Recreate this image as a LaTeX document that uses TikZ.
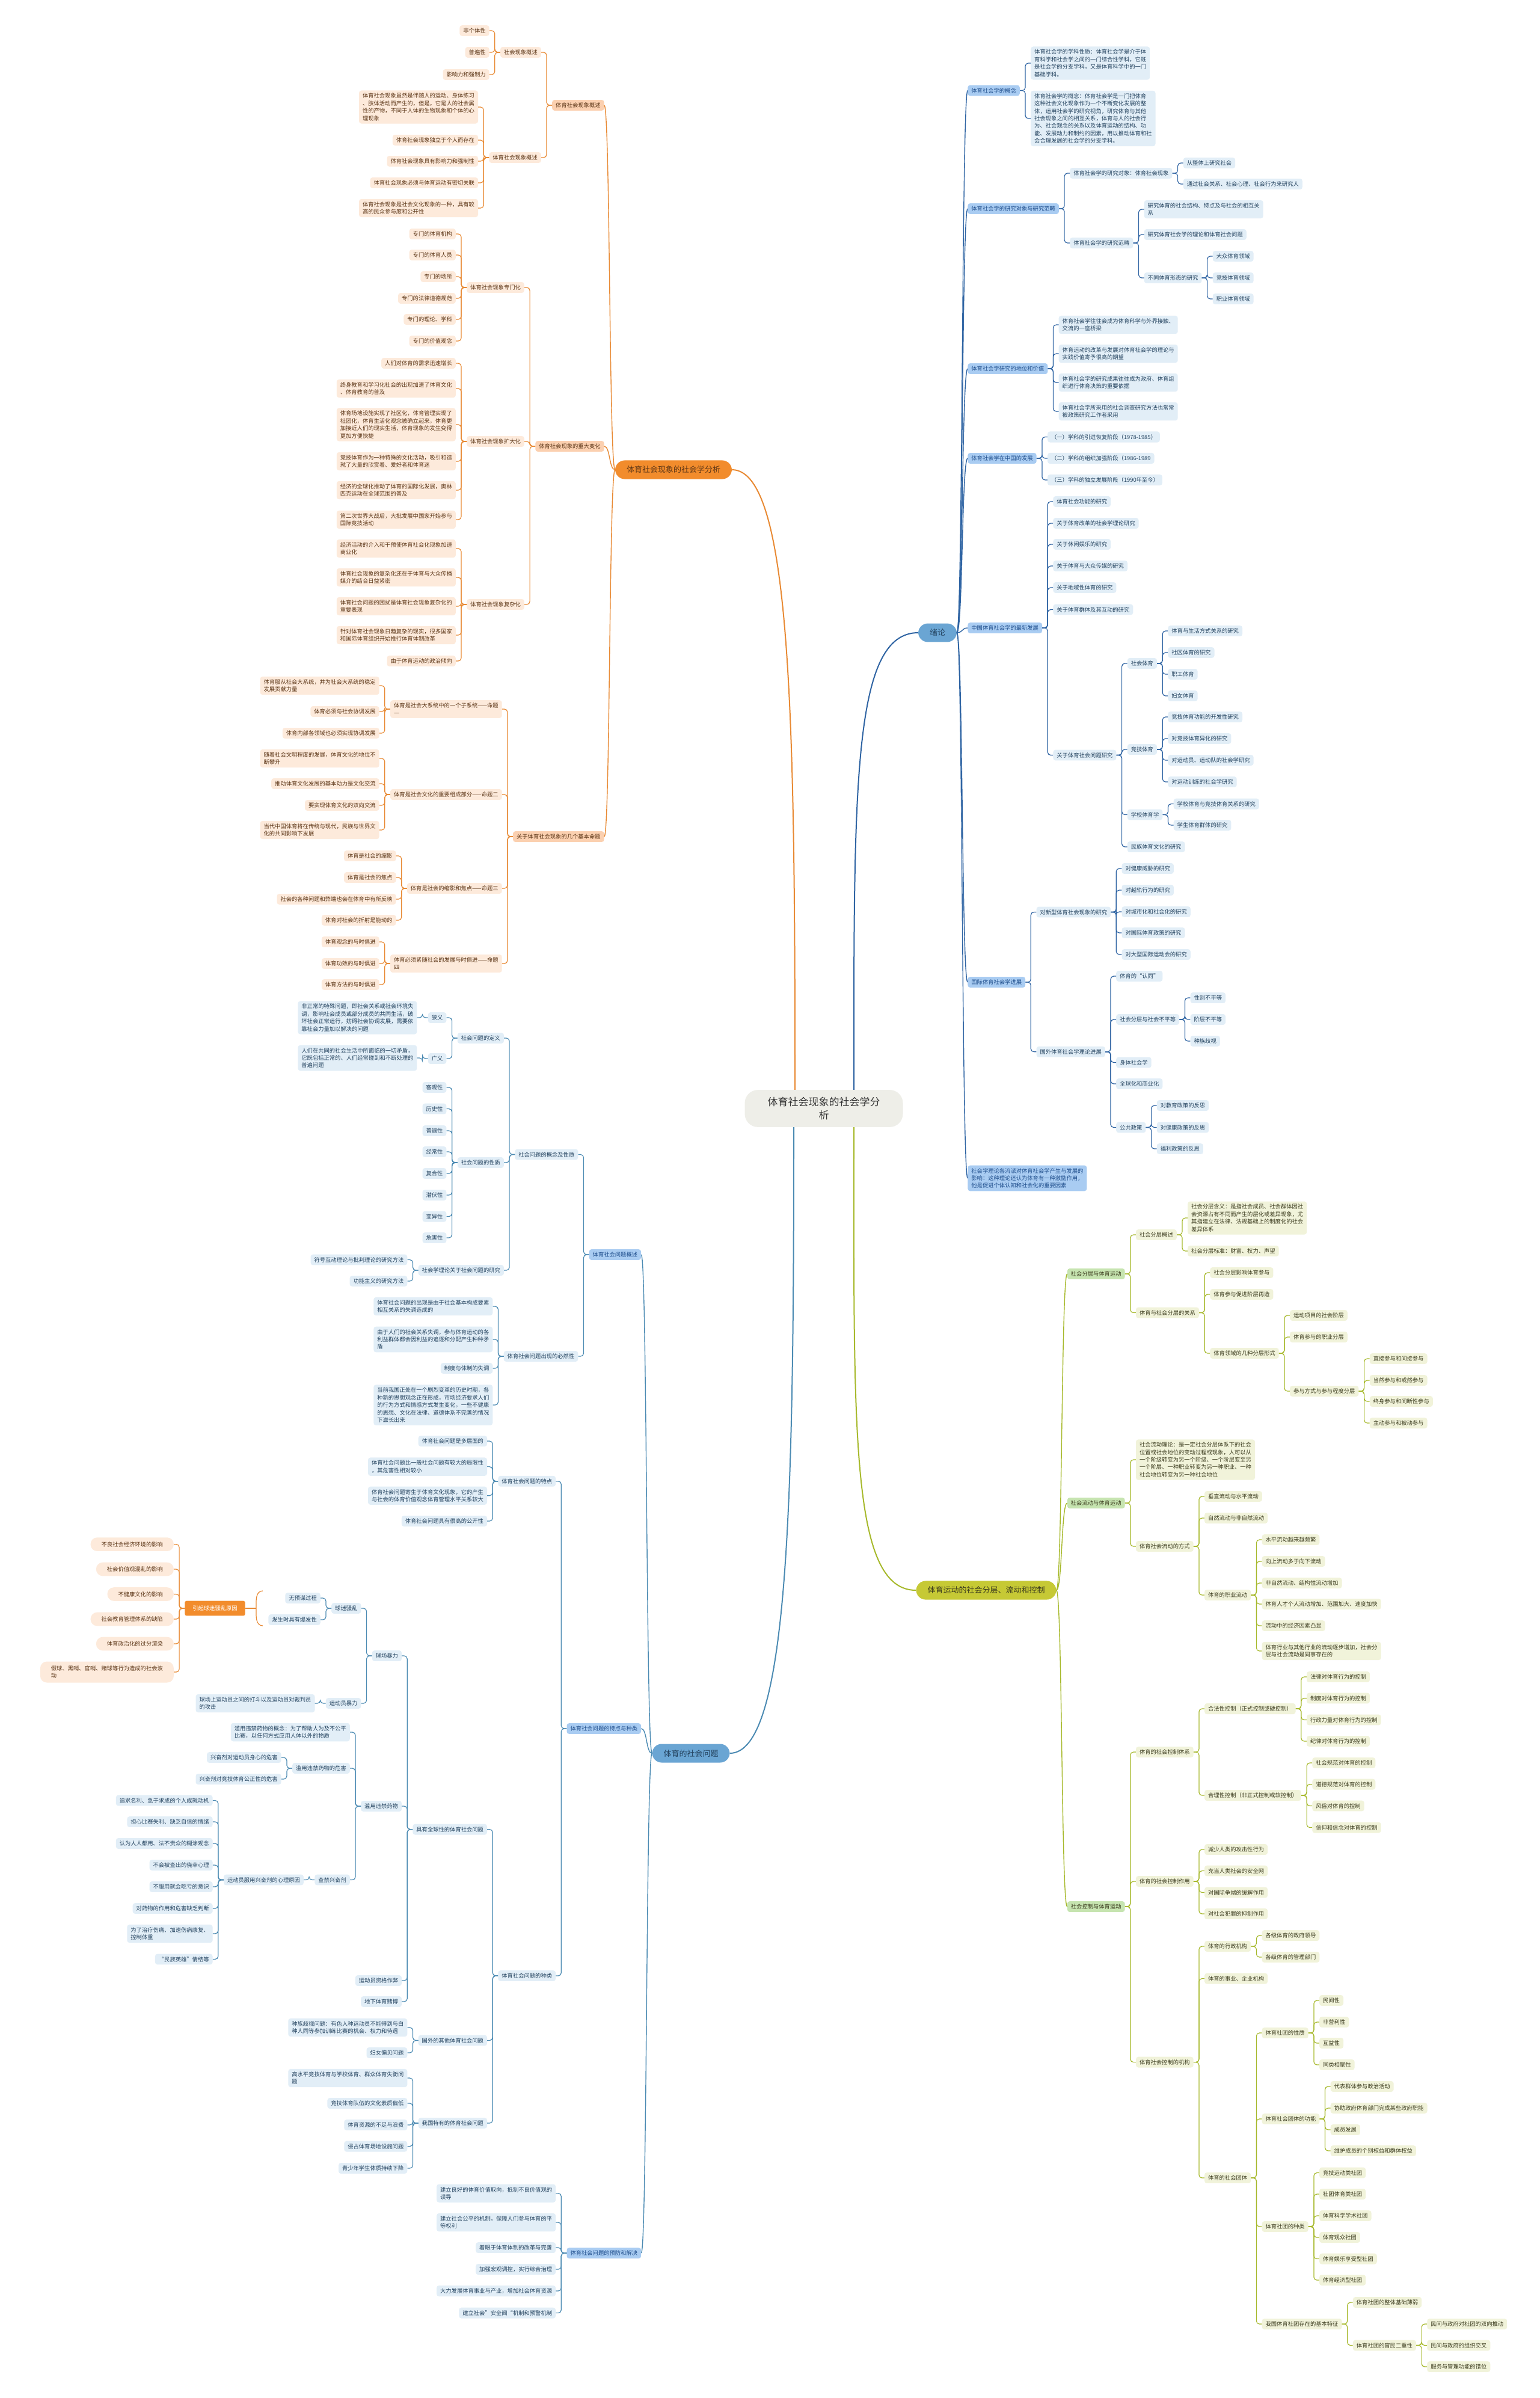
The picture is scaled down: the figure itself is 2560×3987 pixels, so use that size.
\documentclass[tikz,border=0pt]{standalone}
\usepackage{fontspec}
\setmainfont{Noto Sans CJK SC}
\usetikzlibrary{calc,positioning}
\definecolor{oline}{HTML}{E88A34}
\definecolor{omainfill}{HTML}{F28C2C}
\definecolor{osubfill}{HTML}{FBD0B0}
\definecolor{oleaffill}{HTML}{FDEADB}
\definecolor{otext}{HTML}{5B3516}
\definecolor{bline}{HTML}{2F64A3}
\definecolor{cline}{HTML}{4C8BB3}
\definecolor{bmainfill}{HTML}{6AA5D3}
\definecolor{bsubfill}{HTML}{A9CCF2}
\definecolor{bleaffill}{HTML}{E2EEF7}
\definecolor{btext}{HTML}{24435F}
\definecolor{bsubtext}{HTML}{1F4E8C}
\definecolor{gline}{HTML}{A7B92C}
\definecolor{gmainfill}{HTML}{C6C935}
\definecolor{gsubfill}{HTML}{C6E4B0}
\definecolor{gleaffill}{HTML}{F1F3DA}
\definecolor{gtext}{HTML}{3B3B1E}
\definecolor{rootfill}{HTML}{EEEEE8}

\tikzset{
  cardbox/.style={font=\fontsize{9.3}{12.4}\selectfont, align=left, inner xsep=6pt, inner ysep=4.6pt, rounded corners=4pt},
  mainbox/.style={font=\fontsize{13}{16}\selectfont, inner xsep=19pt, inner ysep=9.5pt, rounded corners=16pt},
  oleaf/.style={cardbox, fill=oleaffill, text=otext},
  osub/.style={cardbox, fill=osubfill, text=otext},
  olink/.style={draw=oline, line width=1.2pt, rounded corners=5pt},
  oarm/.style={draw=oline, line width=1.4pt},
  omain/.style={mainbox, fill=omainfill, text=otext},
  bleaf/.style={cardbox, fill=bleaffill, text=btext},
  bsub/.style={cardbox, fill=bsubfill, text=bsubtext},
  blink/.style={draw=bline, line width=1.2pt, rounded corners=5pt},
  barm/.style={draw=bline, line width=1.4pt},
  bmain/.style={mainbox, fill=bmainfill, text=btext},
  cleaf/.style={bleaf},
  csub/.style={bsub},
  clink/.style={draw=cline, line width=1.2pt, rounded corners=5pt},
  carm/.style={draw=cline, line width=1.4pt},
  gleaf/.style={cardbox, fill=gleaffill, text=gtext},
  gsub/.style={cardbox, fill=gsubfill, text=gtext},
  glink/.style={draw=gline, line width=1.2pt, rounded corners=5pt},
  garm/.style={draw=gline, line width=1.4pt},
  gmain/.style={mainbox, fill=gmainfill, text=gtext},
  pleaf/.style={cardbox, fill=oleaffill, text=otext, inner xsep=18pt, inner ysep=7pt, rounded corners=11pt},
  plink/.style={olink},
  osum/.style={cardbox, fill=omainfill, text=white, inner xsep=13pt, inner ysep=8pt, rounded corners=3pt},
  rootbox/.style={font=\fontsize{17}{22}\selectfont, align=center, fill=rootfill, text=black!80, inner xsep=38pt, inner ysep=12pt, rounded corners=22pt},
}

% child boxes: style prefix, name, parent, y, text
\newcommand\kidL[5]{\node[#1leaf,anchor=east] (#2) at ($(#3.west|-0,#4)+(-18,0)$) {#5};
  \draw[#1link] (#3.west) -- ++(-9,0) |- (#2.east);}
\newcommand\kidR[5]{\node[#1leaf,anchor=west] (#2) at ($(#3.east|-0,#4)+(18,0)$) {#5};
  \draw[#1link] (#3.east) -- ++(9,0) |- (#2.west);}
\newcommand\armL[5]{\node[#1sub,anchor=east] (#2) at ($(#3.west|-0,#4)+(-18,0)$) {#5};
  \draw[#1arm] (#3.west) .. controls +(-10,0) and +(10,0) .. (#2.east);}
\newcommand\armR[5]{\node[#1sub,anchor=west] (#2) at ($(#3.east|-0,#4)+(18,0)$) {#5};
  \draw[#1arm] (#3.east) .. controls +(10,0) and +(-10,0) .. (#2.west);}

\begin{document}
\begin{tikzpicture}[x=1pt,y=-1pt]
\fill[white] (0,0) rectangle (2560,3987);
\useasboundingbox (0,0) rectangle (2560,3987);

% centre and main branches
\node[rootbox] (root) at (1370,1843) {体育社会现象的社会学分\\析};
\node[omain] (xian) at (1120,781) {体育社会现象的社会学分析};
\node[bmain] (xu) at (1559,1052) {绪论};
\node[gmain] (feng) at (1640,2644) {体育运动的社会分层、流动和控制};
\node[bmain] (wen) at (1149,2915) {体育的社会问题};
\coordinate (root-a) at ($(root.north)+(-48,0)$);
\coordinate (root-b) at ($(root.north)+(50,0)$);
\coordinate (root-c) at ($(root.south)+(-50,0)$);
\coordinate (root-d) at ($(root.south)+(50,0)$);
\draw[oarm, line width=2pt] (xian.east) .. controls +(100,0) and +(0,-600) .. (root-a);
\draw[barm, line width=2pt] (xu.west) .. controls +(-110,0) and +(0,-500) .. (root-b);
\draw[carm, line width=2pt] (wen.east) .. controls +(100,0) and +(0,600) .. (root-c);
\draw[garm, line width=2pt] (feng.west) .. controls +(-110,0) and +(0,500) .. (root-d);

% ---------------- orange branch
\armL{o}{o1}{xian}{175}{体育社会现象概述}
\kidL{o}{o1-1}{o1}{87}{社会现象概述}
\kidL{o}{o1-1-1}{o1-1}{51}{非个体性}
\kidL{o}{o1-1-2}{o1-1}{87}{普遍性}
\kidL{o}{o1-1-3}{o1-1}{124}{影响力和强制力}
\kidL{o}{o1-2}{o1}{262}{体育社会现象概述}
\kidL{o}{o1-2-1}{o1-2}{178}{体育社会现象虽然是伴随人的运动、身体练习\\、肢体活动而产生的，但是，它是人的社会属\\性的产物，不同于人体的生物现象和个体的心\\理现象}
\kidL{o}{o1-2-2}{o1-2}{233}{体育社会现象独立于个人而存在}
\kidL{o}{o1-2-3}{o1-2}{268}{体育社会现象具有影响力和强制性}
\kidL{o}{o1-2-4}{o1-2}{304}{体育社会现象必须与体育运动有密切关联}
\kidL{o}{o1-2-5}{o1-2}{346}{体育社会现象是社会文化现象的一种，具有较\\高的民众参与度和公开性}

\armL{o}{o2}{xian}{742}{体育社会现象的重大变化}
\kidL{o}{o2-1}{o2}{478}{体育社会现象专门化}
\kidL{o}{o2-1-1}{o2-1}{389}{专门的体育机构}
\kidL{o}{o2-1-2}{o2-1}{424}{专门的体育人员}
\kidL{o}{o2-1-3}{o2-1}{460}{专门的场所}
\kidL{o}{o2-1-4}{o2-1}{496}{专门的法律道德规范}
\kidL{o}{o2-1-5}{o2-1}{531}{专门的理论、学科}
\kidL{o}{o2-1-6}{o2-1}{567}{专门的价值观念}
\kidL{o}{o2-2}{o2}{734}{体育社会现象扩大化}
\kidL{o}{o2-2-1}{o2-2}{604}{人们对体育的需求迅速增长}
\kidL{o}{o2-2-2}{o2-2}{646}{终身教育和学习化社会的出现加速了体育文化\\、体育教育的普及}
\kidL{o}{o2-2-3}{o2-2}{706}{体育场地设施实现了社区化，体育管理实现了\\社团化，体育生活化观念被确立起来，体育更\\加接近人们的现实生活，体育现象的发生变得\\更加方便快捷}
\kidL{o}{o2-2-4}{o2-2}{767}{竞技体育作为一种特殊的文化活动，吸引和造\\就了大量的欣赏着、爱好者和体育迷}
\kidL{o}{o2-2-5}{o2-2}{815}{经济的全球化推动了体育的国际化发展，奥林\\匹克运动在全球范围的普及}
\kidL{o}{o2-2-6}{o2-2}{864}{第二次世界大战后，大批发展中国家开始参与\\国际竞技活动}
\kidL{o}{o2-3}{o2}{1005}{体育社会现象复杂化}
\kidL{o}{o2-3-1}{o2-3}{912}{经济活动的介入和干预使体育社会化现象加速\\商业化}
\kidL{o}{o2-3-2}{o2-3}{960}{体育社会现象的复杂化还在于体育与大众传播\\媒介的结合日益紧密}
\kidL{o}{o2-3-3}{o2-3}{1008}{体育社会问题的困扰是体育社会现象复杂化的\\重要表现}
\kidL{o}{o2-3-4}{o2-3}{1056}{针对体育社会现象日趋复杂的现实，很多国家\\和国际体育组织开始推行体育体制改革}
\kidL{o}{o2-3-5}{o2-3}{1099}{由于体育运动的政治倾向}

\armL{o}{o3}{xian}{1391}{关于体育社会现象的几个基本命题}
\kidL{o}{o3-1}{o3}{1179}{体育是社会大系统中的一个子系统——命题\\一}
\kidL{o}{o3-1-1}{o3-1}{1140}{体育服从社会大系统，并为社会大系统的稳定\\发展贡献力量}
\kidL{o}{o3-1-2}{o3-1}{1183}{体育必须与社会协调发展}
\kidL{o}{o3-1-3}{o3-1}{1219}{体育内部各领域也必须实现协调发展}
\kidL{o}{o3-2}{o3}{1321}{体育是社会文化的重要组成部分——命题二}
\kidL{o}{o3-2-1}{o3-2}{1261}{随着社会文明程度的发展，体育文化的地位不\\断攀升}
\kidL{o}{o3-2-2}{o3-2}{1303}{推动体育文化发展的基本动力是文化交流}
\kidL{o}{o3-2-3}{o3-2}{1339}{要实现体育文化的双向交流}
\kidL{o}{o3-2-4}{o3-2}{1380}{当代中国体育将在传统与现代，民族与世界文\\化的共同影响下发展}
\kidL{o}{o3-3}{o3}{1477}{体育是社会的缩影和焦点——命题三}
\kidL{o}{o3-3-1}{o3-3}{1423}{体育是社会的缩影}
\kidL{o}{o3-3-2}{o3-3}{1459}{体育是社会的焦点}
\kidL{o}{o3-3-3}{o3-3}{1495}{社会的各种问题和弊端也会在体育中有所反映}
\kidL{o}{o3-3-4}{o3-3}{1530}{体育对社会的折射是能动的}
\kidL{o}{o3-4}{o3}{1602}{体育必须紧随社会的发展与时俱进——命题\\四}
\kidL{o}{o3-4-1}{o3-4}{1566}{体育观念的与时俱进}
\kidL{o}{o3-4-2}{o3-4}{1602}{体育功效的与时俱进}
\kidL{o}{o3-4-3}{o3-4}{1637}{体育方法的与时俱进}

% ---------------- blue branch, top right
\armR{b}{b1}{xu}{150.5}{体育社会学的概念}
\kidR{b}{b1-1}{b1}{105}{体育社会学的学科性质：体育社会学是介于体\\育科学和社会学之间的一门综合性学科，它既\\是社会学的分支学科，又是体育科学中的一门\\基础学科。}
\kidR{b}{b1-2}{b1}{197}{体育社会学的概念：体育社会学是一门把体育\\这种社会文化现象作为一个不断变化发展的整\\体，运用社会学的研究视角，研究体育与其他\\社会现象之间的相互关系，体育与人的社会行\\为、社会观念的关系以及体育运动的结构、功\\能、发展动力和制约的因素，用以推动体育和社\\会合理发展的社会学的分支学科。}
\armR{b}{b2}{xu}{347}{体育社会学的研究对象与研究范畴}
\kidR{b}{b2-1}{b2}{288}{体育社会学的研究对象：体育社会现象}
\kidR{b}{b2-1-1}{b2-1}{271}{从整体上研究社会}
\kidR{b}{b2-1-2}{b2-1}{306}{通过社会关系、社会心理、社会行为来研究人}
\kidR{b}{b2-2}{b2}{404}{体育社会学的研究范畴}
\kidR{b}{b2-2-1}{b2-2}{348}{研究体育的社会结构、特点及与社会的相互关\\系}
\kidR{b}{b2-2-2}{b2-2}{390}{研究体育社会学的理论和体育社会问题}
\kidR{b}{b2-2-3}{b2-2}{462}{不同体育形态的研究}
\kidR{b}{b2-2-3-1}{b2-2-3}{426}{大众体育领域}
\kidR{b}{b2-2-3-2}{b2-2-3}{462}{竞技体育领域}
\kidR{b}{b2-2-3-3}{b2-2-3}{497}{职业体育领域}
\armR{b}{b3}{xu}{613}{体育社会学研究的地位和价值}
\kidR{b}{b3-1}{b3}{540}{体育社会学往往会成为体育科学与外界接触、\\交流的一座桥梁}
\kidR{b}{b3-2}{b3}{588}{体育运动的改革与发展对体育社会学的理论与\\实践价值寄予很高的期望}
\kidR{b}{b3-3}{b3}{636}{体育社会学的研究成果往往成为政府、体育组\\织进行体育决策的重要依据}
\kidR{b}{b3-4}{b3}{684}{体育社会学所采用的社会调查研究方法也常常\\被政策研究工作者采用}
\armR{b}{b4}{xu}{762}{体育社会学在中国的发展}
\kidR{b}{b4-1}{b4}{726.5}{（一）学科的引进恢复阶段（1978-1985）}
\kidR{b}{b4-2}{b4}{762}{（二）学科的组织加强阶段（1986-1989}
\kidR{b}{b4-3}{b4}{798}{（三）学科的独立发展阶段（1990年至今）}
\armR{b}{b5}{xu}{1044}{中国体育社会学的最新发展}
\kidR{b}{b5-1}{b5}{834}{体育社会功能的研究}
\kidR{b}{b5-2}{b5}{870}{关于体育改革的社会学理论研究}
\kidR{b}{b5-3}{b5}{905}{关于休闲娱乐的研究}
\kidR{b}{b5-4}{b5}{941}{关于体育与大众传媒的研究}
\kidR{b}{b5-5}{b5}{977}{关于地域性体育的研究}
\kidR{b}{b5-6}{b5}{1013.5}{关于体育群体及其互动的研究}
\kidR{b}{b5-7}{b5}{1255.5}{关于体育社会问题研究}
\kidR{b}{b5-7-1}{b5-7}{1103}{社会体育}
\kidR{b}{b5-7-1-1}{b5-7-1}{1049}{体育与生活方式关系的研究}
\kidR{b}{b5-7-1-2}{b5-7-1}{1085}{社区体育的研究}
\kidR{b}{b5-7-1-3}{b5-7-1}{1121}{职工体育}
\kidR{b}{b5-7-1-4}{b5-7-1}{1157}{妇女体育}
\kidR{b}{b5-7-2}{b5-7}{1246}{竞技体育}
\kidR{b}{b5-7-2-1}{b5-7-2}{1192}{竞技体育功能的开发性研究}
\kidR{b}{b5-7-2-2}{b5-7-2}{1228}{对竞技体育异化的研究}
\kidR{b}{b5-7-2-3}{b5-7-2}{1264}{对运动员、运动队的社会学研究}
\kidR{b}{b5-7-2-4}{b5-7-2}{1300}{对运动训练的社会学研究}
\kidR{b}{b5-7-3}{b5-7}{1354.5}{学校体育学}
\kidR{b}{b5-7-3-1}{b5-7-3}{1336.6}{学校体育与竞技体育关系的研究}
\kidR{b}{b5-7-3-2}{b5-7-3}{1372}{学生体育群体的研究}
\kidR{b}{b5-7-4}{b5-7}{1408}{民族体育文化的研究}
\armR{b}{b6}{xu}{1633}{国际体育社会学进展}
\kidR{b}{b6-1}{b6}{1516.5}{对新型体育社会现象的研究}
\kidR{b}{b6-1-1}{b6-1}{1444}{对健康威胁的研究}
\kidR{b}{b6-1-2}{b6-1}{1480}{对越轨行为的研究}
\kidR{b}{b6-1-3}{b6-1}{1516}{对城市化和社会化的研究}
\kidR{b}{b6-1-4}{b6-1}{1551}{对国际体育政策的研究}
\kidR{b}{b6-1-5}{b6-1}{1587}{对大型国际运动会的研究}
\kidR{b}{b6-2}{b6}{1748.7}{国外体育社会学理论进展}
\kidR{b}{b6-2-1}{b6-2}{1623}{体育的“认同”}
\kidR{b}{b6-2-2}{b6-2}{1695}{社会分层与社会不平等}
\kidR{b}{b6-2-2-1}{b6-2-2}{1659}{性别不平等}
\kidR{b}{b6-2-2-2}{b6-2-2}{1695}{阶层不平等}
\kidR{b}{b6-2-2-3}{b6-2-2}{1731}{种族歧视}
\kidR{b}{b6-2-3}{b6-2}{1766.5}{身体社会学}
\kidR{b}{b6-2-4}{b6-2}{1802}{全球化和商业化}
\kidR{b}{b6-2-5}{b6-2}{1874.5}{公共政策}
\kidR{b}{b6-2-5-1}{b6-2-5}{1838}{对教育政策的反思}
\kidR{b}{b6-2-5-2}{b6-2-5}{1874.5}{对健康政策的反思}
\kidR{b}{b6-2-5-3}{b6-2-5}{1910}{福利政策的反思}
\armR{b}{b7}{xu}{1959}{社会学理论各流派对体育社会学产生与发展的\\影响：这种理论还认为体育有一种激励作用，\\他是促进个体认知和社会化的重要因素}

% ---------------- olive branch
\armR{g}{g1}{feng}{2118}{社会分层与体育运动}
\kidR{g}{g1-1}{g1}{2053}{社会分层概述}
\kidR{g}{g1-1-1}{g1-1}{2025}{社会分层含义：是指社会成员、社会群体因社\\会资源占有不同而产生的层化或差异现象，尤\\其指建立在法律、法规基础上的制度化的社会\\差异体系}
\kidR{g}{g1-1-2}{g1-1}{2080}{社会分层标准：财富、权力、声望}
\kidR{g}{g1-2}{g1}{2182.5}{体育与社会分层的关系}
\kidR{g}{g1-2-1}{g1-2}{2116}{社会分层影响体育参与}
\kidR{g}{g1-2-2}{g1-2}{2152}{体育参与促进阶层再造}
\kidR{g}{g1-2-3}{g1-2}{2250}{体育领域的几种分层形式}
\kidR{g}{g1-2-3-1}{g1-2-3}{2187}{运动项目的社会阶层}
\kidR{g}{g1-2-3-2}{g1-2-3}{2223}{体育参与的职业分层}
\kidR{g}{g1-2-3-3}{g1-2-3}{2313}{参与方式与参与程度分层}
\kidR{g}{g1-2-3-3-1}{g1-2-3-3}{2259}{直接参与和间接参与}
\kidR{g}{g1-2-3-3-2}{g1-2-3-3}{2295}{当然参与和或然参与}
\kidR{g}{g1-2-3-3-3}{g1-2-3-3}{2330}{终身参与和间断性参与}
\kidR{g}{g1-2-3-3-4}{g1-2-3-3}{2366}{主动参与和被动参与}
\armR{g}{g2}{feng}{2499}{社会流动与体育运动}
\kidR{g}{g2-1}{g2}{2427}{社会流动理论：是一定社会分层体系下的社会\\位置或社会地位的变动过程或现象，人可以从\\一个阶级转变为另一个阶级、一个阶层变至另\\一个阶层、一种职业转变为另一种职业、一种\\社会地位转变为另一种社会地位}
\kidR{g}{g2-2}{g2}{2571}{体育社会流动的方式}
\kidR{g}{g2-2-1}{g2-2}{2488}{垂直流动与水平流动}
\kidR{g}{g2-2-2}{g2-2}{2524}{自然流动与非自然流动}
\kidR{g}{g2-2-3}{g2-2}{2652}{体育的职业流动}
\kidR{g}{g2-2-3-1}{g2-2-3}{2560}{水平流动越来越频繁}
\kidR{g}{g2-2-3-2}{g2-2-3}{2596}{向上流动多于向下流动}
\kidR{g}{g2-2-3-3}{g2-2-3}{2632}{非自然流动、结构性流动增加}
\kidR{g}{g2-2-3-4}{g2-2-3}{2667}{体育人才个人流动增加、范围加大、速度加快}
\kidR{g}{g2-2-3-5}{g2-2-3}{2703}{流动中的经济因素凸显}
\kidR{g}{g2-2-3-6}{g2-2-3}{2745}{体育行业与其他行业的流动逐步增加，社会分\\层与社会流动是同事存在的}
\armR{g}{g3}{feng}{3170}{社会控制与体育运动}
\kidR{g}{g3-1}{g3}{2913}{体育的社会控制体系}
\kidR{g}{g3-1-1}{g3-1}{2841}{合法性控制（正式控制或硬控制）}
\kidR{g}{g3-1-1-1}{g3-1-1}{2788}{法律对体育行为的控制}
\kidR{g}{g3-1-1-2}{g3-1-1}{2823.5}{制度对体育行为的控制}
\kidR{g}{g3-1-1-3}{g3-1-1}{2859.5}{行政力量对体育行为的控制}
\kidR{g}{g3-1-1-4}{g3-1-1}{2895}{纪律对体育行为的控制}
\kidR{g}{g3-1-2}{g3-1}{2985}{合理性控制（非正式控制或软控制）}
\kidR{g}{g3-1-2-1}{g3-1-2}{2931}{社会规范对体育的控制}
\kidR{g}{g3-1-2-2}{g3-1-2}{2966.6}{道德规范对体育的控制}
\kidR{g}{g3-1-2-3}{g3-1-2}{3002.5}{风俗对体育的控制}
\kidR{g}{g3-1-2-4}{g3-1-2}{3038.5}{信仰和信念对体育的控制}
\kidR{g}{g3-2}{g3}{3128}{体育的社会控制作用}
\kidR{g}{g3-2-1}{g3-2}{3075}{减少人类的攻击性行为}
\kidR{g}{g3-2-2}{g3-2}{3110.5}{充当人类社会的安全网}
\kidR{g}{g3-2-3}{g3-2}{3146.5}{对国际争端的缓解作用}
\kidR{g}{g3-2-4}{g3-2}{3182}{对社会犯罪的抑制作用}
\kidR{g}{g3-3}{g3}{3428.6}{体育社会控制的机构}
\kidR{g}{g3-3-1}{g3-3}{3236}{体育的行政机构}
\kidR{g}{g3-3-1-1}{g3-3-1}{3218}{各级体育的政府领导}
\kidR{g}{g3-3-1-2}{g3-3-1}{3254}{各级体育的管理部门}
\kidR{g}{g3-3-2}{g3-3}{3289.6}{体育的事业、企业机构}
\kidR{g}{g3-3-3}{g3-3}{3621}{体育的社会团体}
\kidR{g}{g3-3-3-1}{g3-3-3}{3380}{体育社团的性质}
\kidR{g}{g3-3-3-1-1}{g3-3-3-1}{3326}{民间性}
\kidR{g}{g3-3-3-1-2}{g3-3-3-1}{3362}{非营利性}
\kidR{g}{g3-3-3-1-3}{g3-3-3-1}{3397}{互益性}
\kidR{g}{g3-3-3-1-4}{g3-3-3-1}{3433}{同类相聚性}
\kidR{g}{g3-3-3-2}{g3-3-3}{3523}{体育社会团体的功能}
\kidR{g}{g3-3-3-2-1}{g3-3-3-2}{3469}{代表群体参与政治活动}
\kidR{g}{g3-3-3-2-2}{g3-3-3-2}{3505}{协助政府体育部门完成某些政府职能}
\kidR{g}{g3-3-3-2-3}{g3-3-3-2}{3541}{成员发展}
\kidR{g}{g3-3-3-2-4}{g3-3-3-2}{3576}{维护成员的个别权益和群体权益}
\kidR{g}{g3-3-3-3}{g3-3-3}{3702}{体育社团的种类}
\kidR{g}{g3-3-3-3-1}{g3-3-3-3}{3612.5}{竞技运动类社团}
\kidR{g}{g3-3-3-3-2}{g3-3-3-3}{3648}{社团体育类社团}
\kidR{g}{g3-3-3-3-3}{g3-3-3-3}{3684}{体育科学学术社团}
\kidR{g}{g3-3-3-3-4}{g3-3-3-3}{3720}{体育观众社团}
\kidR{g}{g3-3-3-3-5}{g3-3-3-3}{3755.6}{体育娱乐享受型社团}
\kidR{g}{g3-3-3-3-6}{g3-3-3-3}{3791}{体育经济型社团}
\kidR{g}{g3-3-3-4}{g3-3-3}{3864}{我国体育社团存在的基本特征}
\kidR{g}{g3-3-3-4-1}{g3-3-3-4}{3828}{体育社团的整体基础薄弱}
\kidR{g}{g3-3-3-4-2}{g3-3-3-4}{3899.5}{体育社团的官民二重性}
\kidR{g}{g3-3-3-4-2-1}{g3-3-3-4-2}{3864}{民间与政府对社团的双向推动}
\kidR{g}{g3-3-3-4-2-2}{g3-3-3-4-2}{3899.5}{民间与政府的组织交叉}
\kidR{g}{g3-3-3-4-2-3}{g3-3-3-4-2}{3935}{服务与管理功能的错位}

% ---------------- blue branch, bottom left
\armL{c}{c1}{wen}{2086}{体育社会问题概述}
\kidL{c}{c1-1}{c1}{1919.5}{社会问题的概念及性质}
\kidL{c}{c1-1-1}{c1-1}{1726}{社会问题的定义}
\kidL{c}{c1-1-1-1}{c1-1-1}{1692}{狭义}
\kidL{c}{c1-1-1-1-1}{c1-1-1-1}{1692}{非正常的特殊问题，即社会关系或社会环境失\\调，影响社会成员或部分成员的共同生活，破\\坏社会正常运行，妨碍社会协调发展，需要依\\靠社会力量加以解决的问题}
\kidL{c}{c1-1-1-2}{c1-1-1}{1760}{广义}
\kidL{c}{c1-1-1-2-1}{c1-1-1-2}{1759}{人们在共同的社会生活中所面临的一切矛盾，\\它既包括正常的、人们经常碰到和不断处理的\\普遍问题}
\kidL{c}{c1-1-2}{c1-1}{1933}{社会问题的性质}
\kidL{c}{c1-1-2-1}{c1-1-2}{1808}{客观性}
\kidL{c}{c1-1-2-2}{c1-1-2}{1843.6}{历史性}
\kidL{c}{c1-1-2-3}{c1-1-2}{1880}{普遍性}
\kidL{c}{c1-1-2-4}{c1-1-2}{1915}{经常性}
\kidL{c}{c1-1-2-5}{c1-1-2}{1951}{复合性}
\kidL{c}{c1-1-2-6}{c1-1-2}{1987}{潜伏性}
\kidL{c}{c1-1-2-7}{c1-1-2}{2022.6}{变异性}
\kidL{c}{c1-1-2-8}{c1-1-2}{2058}{危害性}
\kidL{c}{c1-1-3}{c1-1}{2112}{社会学理论关于社会问题的研究}
\kidL{c}{c1-1-3-1}{c1-1-3}{2094.5}{符号互动理论与批判理论的研究方法}
\kidL{c}{c1-1-3-2}{c1-1-3}{2130}{功能主义的研究方法}
\kidL{c}{c1-2}{c1}{2255}{体育社会问题出现的必然性}
\kidL{c}{c1-2-1}{c1-2}{2172}{体育社会问题的出现是由于社会基本构成要素\\相互关系的失调造成的}
\kidL{c}{c1-2-2}{c1-2}{2227}{由于人们的社会关系失调，参与体育运动的各\\利益群体都会因利益的追逐和分配产生种种矛\\盾}
\kidL{c}{c1-2-3}{c1-2}{2275}{制度与体制的失调}
\kidL{c}{c1-2-4}{c1-2}{2336}{当前我国正处在一个剧烈变革的历史时期，各\\种新的思想观念正在形成，市场经济要求人们\\的行为方式和情感方式发生变化，一些不健康\\的思想、文化在法律、道德体系不完善的情况\\下滋长出来}

\armL{c}{c2}{wen}{2874}{体育社会问题的特点与种类}
\kidL{c}{c2-1}{c2}{2462.7}{体育社会问题的特点}
\kidL{c}{c2-1-1}{c2-1}{2396}{体育社会问题是多层面的}
\kidL{c}{c2-1-2}{c2-1}{2438.6}{体育社会问题比一般社会问题有较大的局限性\\，其危害性相对较小}
\kidL{c}{c2-1-3}{c2-1}{2486.7}{体育社会问题寄生于体育文化现象，它的产生\\与社会的体育价值观念体育管理水平关系较大}
\kidL{c}{c2-1-4}{c2-1}{2529}{体育社会问题具有很高的公开性}
\kidL{c}{c2-2}{c2}{3285}{体育社会问题的种类}
\kidL{c}{c2-2-1}{c2-2}{3041.6}{具有全球性的体育社会问题}
\kidL{c}{c2-2-1-1}{c2-2-1}{2753}{球场暴力}
\kidL{c}{c2-2-1-1-1}{c2-2-1-1}{2674}{球迷骚乱}
\kidL{c}{c2-2-1-1-1-1}{c2-2-1-1-1}{2657}{无预谋过程}
\kidL{c}{c2-2-1-1-1-2}{c2-2-1-1-1}{2693}{发生时具有爆发性}
\kidL{c}{c2-2-1-1-2}{c2-2-1-1}{2832}{运动员暴力}
\kidL{c}{c2-2-1-1-2-1}{c2-2-1-1-2}{2832}{球场上运动员之间的打斗以及运动员对裁判员\\的攻击}
\kidL{c}{c2-2-1-2}{c2-2-1}{3003}{滥用违禁药物}
\kidL{c}{c2-2-1-2-1}{c2-2-1-2}{2880}{滥用违禁药物的概念：为了帮助人为及不公平\\比赛，以任何方式应用人体以外的物质}
\kidL{c}{c2-2-1-2-2}{c2-2-1-2}{2940}{滥用违禁药物的危害}
\kidL{c}{c2-2-1-2-2-1}{c2-2-1-2-2}{2922}{兴奋剂对运动员身心的危害}
\kidL{c}{c2-2-1-2-2-2}{c2-2-1-2-2}{2958}{兴奋剂对竞技体育公正性的危害}
\kidL{c}{c2-2-1-2-3}{c2-2-1-2}{3125.5}{查禁兴奋剂}
\kidL{c}{xin}{c2-2-1-2-3}{3125.5}{运动员服用兴奋剂的心理原因}
\kidL{c}{xin-1}{xin}{2993.5}{追求名利、急于求成的个人成就动机}
\kidL{c}{xin-2}{xin}{3029}{担心比赛失利、缺乏自信的情绪}
\kidL{c}{xin-3}{xin}{3065}{认为人人都用、法不责众的糊涂观念}
\kidL{c}{xin-4}{xin}{3101}{不会被查出的侥幸心理}
\kidL{c}{xin-5}{xin}{3137}{不服用就会吃亏的意识}
\kidL{c}{xin-6}{xin}{3173}{对药物的作用和危害缺乏判断}
\kidL{c}{xin-7}{xin}{3215}{为了治疗伤痛、加速伤病康复、\\控制体重}
\kidL{c}{xin-8}{xin}{3257.5}{“民族英雄”情结等}
\kidL{c}{c2-2-1-3}{c2-2-1}{3293}{运动员资格作弊}
\kidL{c}{c2-2-1-4}{c2-2-1}{3328}{地下体育赌博}
\kidL{c}{c2-2-2}{c2-2}{3392.5}{国外的其他体育社会问题}
\kidL{c}{c2-2-2-1}{c2-2-2}{3371}{种族歧视问题：有色人种运动员不能得到与白\\种人同等参加训练比赛的机会、权力和待遇}
\kidL{c}{c2-2-2-2}{c2-2-2}{3413}{妇女偏见问题}
\kidL{c}{c2-2-3}{c2-2}{3530}{我国特有的体育社会问题}
\kidL{c}{c2-2-3-1}{c2-2-3}{3455}{高水平竞技体育与学校体育、群众体育失衡问\\题}
\kidL{c}{c2-2-3-2}{c2-2-3}{3497}{竞技体育队伍的文化素质偏低}
\kidL{c}{c2-2-3-3}{c2-2-3}{3533}{体育资源的不足与浪费}
\kidL{c}{c2-2-3-4}{c2-2-3}{3568.6}{侵占体育场地设施问题}
\kidL{c}{c2-2-3-5}{c2-2-3}{3605}{青少年学生体质持续下降}

\armL{c}{c3}{wen}{3746}{体育社会问题的预防和解决}
\kidL{c}{c3-1}{c3}{3646.6}{建立良好的体育价值取向，抵制不良价值观的\\误导}
\kidL{c}{c3-2}{c3}{3695}{建立社会公平的机制，保障人们参与体育的平\\等权利}
\kidL{c}{c3-3}{c3}{3737}{着眼于体育体制的改革与完善}
\kidL{c}{c3-4}{c3}{3773}{加强宏观调控，实行综合治理}
\kidL{c}{c3-5}{c3}{3809}{大力发展体育事业与产业，增加社会体育资源}
\kidL{c}{c3-6}{c3}{3845.6}{建立社会”安全阀“机制和预警机制}

% summary of the riot group
\node[osum] (yuan) at (357.5,2674) {引起球迷骚乱原因};
\coordinate (brk-top) at (437,2645);
\coordinate (brk-mid) at (426,2674);
\coordinate (brk-bot) at (437,2703);
\draw[olink] (brk-top) to[out=180,in=90] (brk-mid) to[out=-90,in=180] (brk-bot);
\draw[olink] (yuan.east) -- (brk-mid);
\kidL{p}{yuan-1}{yuan}{2567.6}{不良社会经济环境的影响}
\kidL{p}{yuan-2}{yuan}{2609}{社会价值观混乱的影响}
\kidL{p}{yuan-3}{yuan}{2650.5}{不健康文化的影响}
\kidL{p}{yuan-4}{yuan}{2692}{社会教育管理体系的缺陷}
\kidL{p}{yuan-5}{yuan}{2733}{体育政治化的过分渲染}
\kidL{p}{yuan-6}{yuan}{2780}{假球、黑哨、官哨、赌球等行为造成的社会波\\动}
\end{tikzpicture}
\end{document}
